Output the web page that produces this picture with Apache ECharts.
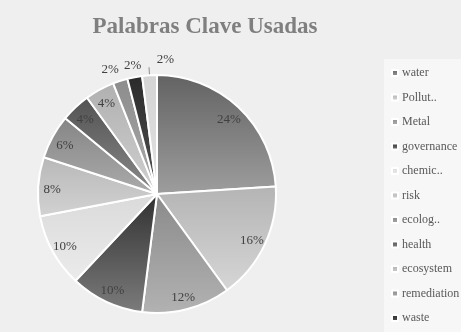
<!DOCTYPE html>
<html>
<head>
<meta charset="utf-8">
<script src="https://cdn.jsdelivr.net/npm/echarts@6/dist/echarts.min.js"></script>
<style>
  html, body { margin: 0; padding: 0; background: #efefef; }
  #chart { width: 461px; height: 332px; }
</style>
</head>
<body>
<div id="chart"></div>
<script>
// Keyword shares (percent), clockwise from 12 o'clock
const categories = ['water', 'Pollut..', 'Metal', 'governance', 'chemic..', 'risk',
                    'ecolog..', 'health', 'ecosystem', 'remediation', 'waste', 'soil'];
const shares = [24, 16, 12, 10, 10, 8, 6, 4, 4, 2, 2, 2];
// Gray gradient per slice: [top, bottom]
const shades = [
  ['#626262', '#9e9e9e'],
  ['#b4b4b4', '#d6d6d6'],
  ['#8a8a8a', '#b2b2b2'],
  ['#303030', '#7c7c7c'],
  ['#dadada', '#ebebeb'],
  ['#b8b8b8', '#d2d2d2'],
  ['#858585', '#ababab'],
  ['#525252', '#8a8a8a'],
  ['#b0b0b0', '#d0d0d0'],
  ['#8c8c8c', '#ababab'],
  ['#2a2a2a', '#545454'],
  ['#d4d4d4', '#e2e2e2']
];
// Slices too thin for an inside label get theirs outside the pie
const smallSlice = v => v <= 2;
const lastIndex = categories.length - 1;

const chart = echarts.init(document.getElementById('chart'), null, { renderer: 'canvas' });

const labelFont = { fontFamily: 'Liberation Serif', fontSize: 13, color: '#404040' };
const center = [157, 194];

const gradient = (c) => new echarts.graphic.LinearGradient(0, 0, 0, 1, [
  { offset: 0, color: c[0] }, { offset: 1, color: c[1] }
]);

const sliceData = categories.map((name, i) => {
  const d = { name, value: shares[i], itemStyle: { color: gradient(shades[i]) } };
  if (i === lastIndex) {
    // last thin slice: label pulled up and right, with a leader line
    d.label = Object.assign({ show: true, position: 'outside', formatter: '{c}%' }, labelFont);
    d.labelLine = { show: true, length: 8, length2: 0, lineStyle: { color: '#8c8c8c', width: 1 } };
  }
  return d;
});

// Transparent ring whose middle radius sets where the inner labels sit
const innerLabelData = categories.map((name, i) => ({
  name: name,
  value: shares[i],
  label: { show: !smallSlice(shares[i]) }
}));

// Wide transparent ring for labels of the thin slices
const outerLabelData = categories.map((name, i) => ({
  name: name,
  value: shares[i],
  label: { show: smallSlice(shares[i]) && i !== lastIndex }
}));

chart.setOption({
  backgroundColor: '#efefef',
  animation: false,
  title: {
    text: 'Palabras Clave Usadas',
    left: 200,
    textAlign: 'center',
    top: 11,
    textStyle: { fontFamily: 'Liberation Serif', fontSize: 23, fontWeight: 'bold', color: '#7f7f7f' }
  },
  legend: {
    orient: 'vertical',
    left: 384,
    top: 59,
    height: 320,
    padding: [7, 10, 10, 7],
    backgroundColor: '#f7f7f7',
    icon: 'rect',
    itemWidth: 6,
    itemHeight: 6,
    itemGap: 10.5,
    data: categories,
    selectedMode: false,
    textStyle: { fontFamily: 'Liberation Serif', fontSize: 12, lineHeight: 14, color: '#595959', padding: [0, 0, 0, -1] }
  },
  series: [
    {
      name: 'slices',
      type: 'pie',
      center: center,
      radius: [0, 119],
      startAngle: 90,
      clockwise: true,
      avoidLabelOverlap: false,
      itemStyle: { borderColor: '#ffffff', borderWidth: 2 },
      label: { show: false },
      labelLine: { show: false },
      labelLayout: (p) => p.dataIndex === lastIndex ? { dx: 30, dy: -8 } : {},
      emphasis: { disabled: true },
      data: sliceData
    },
    {
      name: 'inner labels',
      type: 'pie',
      center: center,
      radius: [84, 120],
      startAngle: 90,
      silent: true,
      itemStyle: { color: 'rgba(0,0,0,0)' },
      label: Object.assign({ position: 'inside', formatter: '{c}%' }, labelFont),
      labelLine: { show: false },
      labelLayout: { dy: 2 },
      emphasis: { disabled: true },
      data: innerLabelData
    },
    {
      name: 'outer labels',
      type: 'pie',
      center: center,
      radius: [0, 264],
      startAngle: 90,
      silent: true,
      z: 0,
      itemStyle: { color: 'rgba(0,0,0,0)' },
      label: Object.assign({ position: 'inside', formatter: '{c}%' }, labelFont),
      labelLine: { show: false },
      labelLayout: (p) => p.dataIndex === lastIndex - 2 ? { dx: -5, dy: 4 } : { dx: 1, dy: 4 },
      emphasis: { disabled: true },
      data: outerLabelData
    }
  ]
});
</script>
</body>
</html>
